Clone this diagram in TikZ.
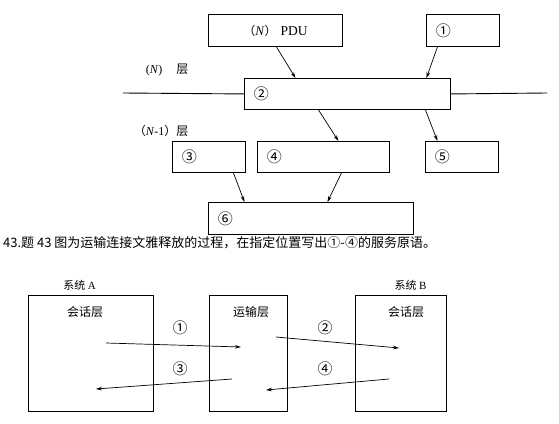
\documentclass[tikz,border=0pt]{standalone}
\usepackage{fontspec}
\setmainfont{Noto Sans CJK SC}
\newfontfamily\lat{Liberation Serif}
\usetikzlibrary{arrows.meta}
\newcommand{\cnum}[1]{{\fontsize{15}{15}\selectfont #1}}
\begin{document}
\begin{tikzpicture}[x=1pt, y=-1pt,
  box/.style={draw, line width=0.9pt, inner xsep=9.5pt, inner ysep=0pt, align=left, anchor=north west},
  layer/.style={draw, line width=0.9pt, minimum height=116pt, inner sep=0pt},
  >={Stealth[length=6pt,width=3.6pt]},
  font=\fontsize{12}{14}\selectfont]
  \useasboundingbox (0,0) rectangle (559,423);
  \node[box, text width=115pt, minimum height=32pt, align=center] (pdu) at (208,14) {（{\lat\fontsize{13}{14}\selectfont\textit{N}}）\ {\lat\fontsize{13.5}{14}\selectfont PDU}};
  \node[box, text width=54pt, minimum height=32pt] (p1) at (426,14) {\cnum{①}};
  \node[anchor=east] (ln) at (192,70) {{\lat(\textit{N})}\hspace{14pt}层};
  \coordinate (wl) at (123,93);
  \coordinate (wr) at (547,93);
  \node[box, text width=187pt, minimum height=31pt] (p2) at (244,78) {\cnum{②}};
  \draw[line width=0.9pt] (wl) -- (p2.west) (p2.east) -- (wr);
  \node[anchor=east] (ln1) at (192,131) {（{\lat\textit{N}-1}）层};
  \node[box, text width=54pt, minimum height=31pt] (p3) at (172,141) {\cnum{③}};
  \node[box, text width=113pt, minimum height=31pt] (p4) at (257,141) {\cnum{④}};
  \node[box, text width=54pt, minimum height=31pt] (p5) at (425,141) {\cnum{⑤}};
  \node[box, text width=186pt, minimum height=32pt] (p6) at (208,202) {\cnum{⑥}};
  \path[->, line width=0.7pt]
    ([xshift=1pt]pdu.south) edge ([xshift=-52pt]p2.north)
    ([xshift=-25.5pt]p1.south) edge ([xshift=79pt]p2.north)
    ([xshift=-29pt]p2.south) edge ([xshift=15pt]p4.north)
    ([xshift=78pt]p2.south) edge ([xshift=-24.5pt]p5.north)
    ([xshift=24.5pt]p3.south) edge ([xshift=-66.5pt]p6.north)
    ([xshift=18pt]p4.south) edge ([xshift=16.5pt]p6.north);
  \node[anchor=west, inner sep=0pt, font=\fontsize{13}{15}\selectfont] (cap) at (3,243) {43.题 43 图为运输连接文雅释放的过程，在指定位置写出①-④的服务原语。};
  \node[font=\fontsize{11}{13}\selectfont] (sa) at (79.5,285) {系统 {\lat A}};
  \node[font=\fontsize{11}{13}\selectfont] (sb) at (410.5,285) {系统 {\lat B}};
  \node[layer, minimum width=125pt, label={[xshift=-5.5pt, yshift=-17pt, anchor=center]north:会话层}] (ha) at (90.5,353) {};
  \node[layer, minimum width=78pt, label={[xshift=3pt, yshift=-17pt, anchor=center]north:运输层}] (ym) at (248,353) {};
  \node[layer, minimum width=91pt, label={[xshift=5.5pt, yshift=-17pt, anchor=center]north:会话层}] (hb) at (400.5,353) {};
  \path[->, line width=0.7pt]
    ([xshift=15.5pt,yshift=10pt]ha.center) edge node[xshift=6.5pt,yshift=17pt] {\cnum{①}} ([xshift=-7pt,yshift=6pt]ym.center)
    ([xshift=28pt,yshift=16pt]ym.center) edge node[xshift=-12.5pt,yshift=14.5pt] {\cnum{②}} ([xshift=-1.5pt,yshift=5pt]hb.center)
    ([xshift=-16pt,yshift=-26pt]ym.center) edge node[xshift=16pt,yshift=15pt] {\cnum{③}} ([xshift=5.5pt,yshift=-36pt]ha.center)
    ([xshift=-11.5pt,yshift=-26pt]hb.center) edge node[xshift=-2.5pt,yshift=15.5pt] {\cnum{④}} ([xshift=18pt,yshift=-37pt]ym.center);
\end{tikzpicture}
\end{document}
